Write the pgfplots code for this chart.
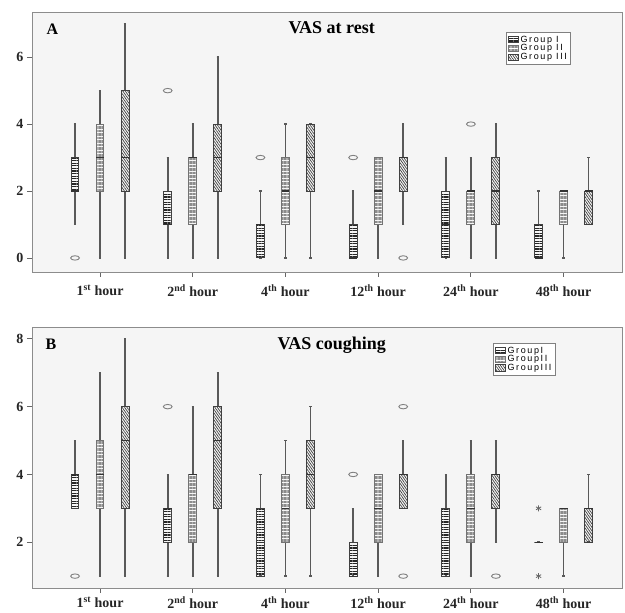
\documentclass[border=0pt]{standalone}
\usepackage{fontspec}
\setmainfont{Liberation Serif}
\newfontfamily\legfont{Liberation Sans}[LetterSpace=18]
\usepackage{pgfplots}
\pgfplotsset{compat=1.18}
\usepgfplotslibrary{statistics}
\usetikzlibrary{patterns.meta}

\tikzset{
 G1/.style={draw=black!75, line width=1pt, pattern={Lines[angle=0,distance=2.6pt,line width=1.2pt]}, pattern color=black!85},
 G2/.style={draw=black!55, line width=1pt, pattern={Lines[angle=0,distance=1.4pt,line width=0.35pt]}, pattern color=black!45},
 G3/.style={draw=black!75, line width=1pt, pattern={Lines[angle=-55,distance=2pt,line width=0.7pt]}, pattern color=black!75},
}
\newcommand\bp[7]{\addplot[#1, forget plot, boxplot prepared={draw direction=y, draw position=#2, lower whisker=#3, lower quartile=#4, median=#5, upper quartile=#6, upper whisker=#7}] coordinates {};}

\pgfplotsset{panel/.style={
 scale only axis, width=590pt, anchor=south west,
 xmin=-0.734, xmax=5.63,
 xtick={0,...,5},
 xticklabels={{1\textsuperscript{st} hour},{2\textsuperscript{nd} hour},{4\textsuperscript{th} hour},{12\textsuperscript{th} hour},{24\textsuperscript{th} hour},{48\textsuperscript{th} hour}},
 axis line style={draw=black!45, line width=0.8pt},
 axis background/.style={fill=black!4},
 tick align=outside, major tick length=5pt,
 tick style={draw=black!60, line width=0.8pt},
 xtick pos=lower, ytick pos=left,
 ticklabel style={font=\bfseries\fontsize{14}{14}\selectfont, text=black!85},
 /pgf/number format/assume math mode=true,
 boxplot/draw direction=y,
 boxplot/box extend=0.085,
 boxplot/whisker extend=0.025,
 boxplot/every whisker/.style={line width=1.6pt, draw=black!65},
 boxplot/every median/.style={line width=1.2pt, draw=black!80},
 legend image code/.code={\draw[##1] (0pt,-3.2pt) rectangle (10pt,3.2pt);},
 legend style={anchor=north west, draw=black!50, fill=white, line width=0.6pt, font=\legfont\fontsize{9}{9}\selectfont, inner sep=1.5pt, row sep=-3pt},
 legend cell align=left,
 clip=false,
}}

\begin{document}
\begin{tikzpicture}
\useasboundingbox (0,0) rectangle (625pt,613pt);
% ---------- Panel A ----------
\begin{axis}[panel, at={(32pt,341pt)}, height=260pt, ymin=-0.42, ymax=7.35, ytick={0,2,4,6},
  xticklabel style={yshift=-4pt},
  legend style={at={(0.803,0.923)}}]
\addlegendimage{G1}\addlegendentry{Group I}
\addlegendimage{G2}\addlegendentry{Group II}
\addlegendimage{G3}\addlegendentry{Group III}
% 1st hour
\bp{G1}{-0.27}{1}{2}{2}{3}{4}
\bp{G2}{0}{0}{2}{3}{4}{5}
\bp{G3}{0.27}{0}{2}{3}{5}{7}
% 2nd hour
\bp{G1}{0.73}{0}{1}{1}{2}{3}
\bp{G2}{1}{0}{1}{3}{3}{4}
\bp{G3}{1.27}{0}{2}{3}{4}{6}
% 4th hour
\bp{G1}{1.73}{0}{0}{1}{1}{2}
\bp{G2}{2}{0}{1}{2}{3}{4}
\bp{G3}{2.27}{0}{2}{3}{4}{4}
% 12th hour
\bp{G1}{2.73}{0}{0}{0}{1}{2}
\bp{G2}{3}{0}{1}{2}{3}{3}
\bp{G3}{3.27}{1}{2}{3}{3}{4}
% 24th hour
\bp{G1}{3.73}{0}{0}{1}{2}{3}
\bp{G2}{4}{0}{1}{2}{2}{3}
\bp{G3}{4.27}{0}{1}{2}{3}{4}
% 48th hour
\bp{G1}{4.73}{0}{0}{0}{1}{2}
\bp{G2}{5}{0}{1}{2}{2}{2}
\bp{G3}{5.27}{1}{1}{2}{2}{3}
\addplot[only marks, forget plot, mark=o, mark size=2.2pt, mark options={xscale=2, draw=black!50, line width=0.9pt, fill=white}]
  coordinates {(-0.27,0) (0.73,5) (1.73,3) (2.73,3) (3.27,0) (4,4)};
\node[anchor=base west, font=\bfseries\fontsize{16}{16}\selectfont] at (rel axis cs:0.019,0.912) {A};
\node[anchor=base, font=\bfseries\fontsize{18}{18}\selectfont] at (rel axis cs:0.508,0.919) {VAS at rest};
\end{axis}
% ---------- Panel B ----------
\begin{axis}[panel, at={(32pt,25pt)}, height=261pt, ymin=0.65, ymax=8.35, ytick={2,4,6,8},
  legend style={at={(0.781,0.939)}}]
\addlegendimage{G1}\addlegendentry{GroupI}
\addlegendimage{G2}\addlegendentry{GroupII}
\addlegendimage{G3}\addlegendentry{GroupIII}
% 1st hour
\bp{G1}{-0.27}{3}{3}{4}{4}{5}
\bp{G2}{0}{1}{3}{4}{5}{7}
\bp{G3}{0.27}{1}{3}{5}{6}{8}
% 2nd hour
\bp{G1}{0.73}{1}{2}{3}{3}{4}
\bp{G2}{1}{1}{2}{4}{4}{6}
\bp{G3}{1.27}{1}{3}{5}{6}{7}
% 4th hour
\bp{G1}{1.73}{1}{1}{2}{3}{4}
\bp{G2}{2}{1}{2}{3}{4}{5}
\bp{G3}{2.27}{1}{3}{4}{5}{6}
% 12th hour
\bp{G1}{2.73}{1}{1}{1}{2}{3}
\bp{G2}{3}{1}{2}{3}{4}{4}
\bp{G3}{3.27}{3}{3}{4}{4}{5}
% 24th hour
\bp{G1}{3.73}{1}{1}{2}{3}{4}
\bp{G2}{4}{1}{2}{3}{4}{5}
\bp{G3}{4.27}{2}{3}{4}{4}{5}
% 48th hour
\bp{G1}{4.73}{2}{2}{2}{2}{2}
\bp{G2}{5}{1}{2}{3}{3}{3}
\bp{G3}{5.27}{2}{2}{3}{3}{4}
\addplot[only marks, forget plot, mark=o, mark size=2.2pt, mark options={xscale=2, draw=black!50, line width=0.9pt, fill=white}]
  coordinates {(-0.27,1) (0.73,6) (2.73,4) (3.27,6) (3.27,1) (4.27,1)};
\addplot[only marks, forget plot, mark=asterisk, mark size=3pt, mark options={draw=black!60, line width=0.8pt}]
  coordinates {(4.73,3) (4.73,1)};
\node[anchor=base west, font=\bfseries\fontsize{16}{16}\selectfont] at (rel axis cs:0.017,0.912) {B};
\node[anchor=base, font=\bfseries\fontsize{18}{18}\selectfont] at (rel axis cs:0.508,0.912) {VAS coughing};
\end{axis}
\end{tikzpicture}
\end{document}
